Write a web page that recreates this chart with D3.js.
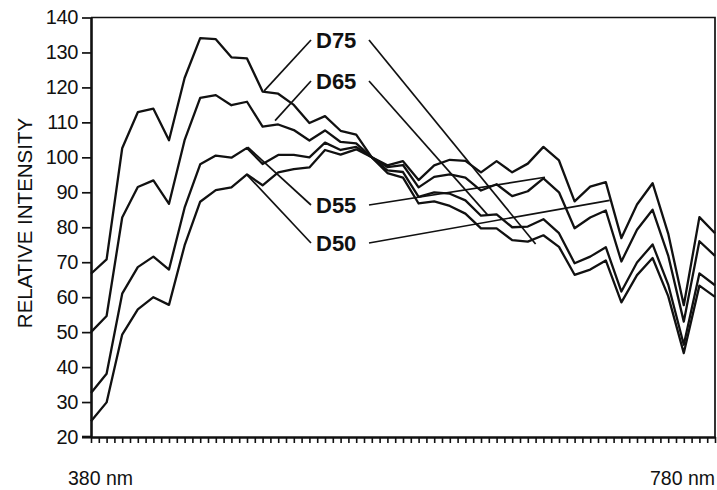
<!DOCTYPE html>
<html>
<head>
<meta charset="utf-8">
<script src="https://cdn.jsdelivr.net/npm/d3@7"></script>
<style>
  body { margin: 0; background: #fff; }
  svg { display: block; }
  text { font-family: "Liberation Sans", Arial, Helvetica, sans-serif; fill: #111; }
  .curve { fill: none; stroke: #111; stroke-width: 2.3; stroke-linejoin: round; }
  .leader { stroke: #111; stroke-width: 1.7; }
</style>
</head>
<body>
<script>
// wavelengths (nm) and relative intensities
var wavelengths = [380,390,400,410,420,430,440,450,460,470,480,490,500,510,520,530,540,550,560,570,
                   580,590,600,610,620,630,640,650,660,670,680,690,700,710,720,730,740,750,760,770,780];
var d75 = [66.7,70.8,102.6,112.9,113.9,104.9,122.7,134.1,133.8,128.6,128.3,118.8,118.2,115.0,109.8,111.8,107.6,106.5,100.0,95.5,
           94.2,86.8,87.4,86.1,83.9,79.7,79.7,76.3,75.9,77.7,74.4,66.4,67.9,70.5,58.5,66.3,71.2,60.3,44.0,63.3,60.1];
var d65 = [50.0,54.6,82.8,91.5,93.4,86.7,104.9,117.0,117.8,114.9,115.9,108.8,109.4,107.8,104.8,107.7,104.4,104.0,100.0,96.3,
           95.8,88.7,90.0,89.6,87.7,83.3,83.7,80.0,80.2,82.3,78.3,69.7,71.6,74.3,61.6,69.9,75.1,63.6,46.4,66.8,63.4];
var d55 = [32.6,38.1,61.0,68.6,71.6,67.9,85.6,98.0,100.5,99.9,102.7,98.1,100.7,100.7,100.0,104.2,102.1,103.0,100.0,97.2,
           97.8,91.4,94.4,95.1,94.2,90.5,92.3,88.9,90.3,94.0,90.0,79.7,82.8,84.8,70.2,79.3,85.0,71.9,53.0,76.0,71.8];
var d50 = [24.5,29.9,49.3,56.5,60.0,57.8,74.8,87.3,90.6,91.4,95.1,92.0,95.7,96.6,97.1,102.1,100.8,102.3,100.0,97.7,
           98.9,93.5,97.7,99.3,99.0,95.7,98.9,95.7,98.2,103.0,99.1,87.4,91.6,92.9,76.9,86.5,92.6,78.2,57.7,82.9,78.3];

var seriesNames = ["D75", "D65", "D55", "D50"];
var yTicks = [20,30,40,50,60,70,80,90,100,110,120,130,140];
var xTicks = d3.range(380, 781, 5);
// leader end points on the curves, [nm, intensity]
var leftEnds = [[491, 119], [498, 110.5], [480.5, 102.9], [480, 95]];
var rightEnds = [[665, 75.2], [634.5, 83.4], [671, 94.3], [712.5, 87.7]];

var width = 717, height = 490;
var plotL = 91, plotR = 715, plotT = 17.5, plotB = 437;

var svg = d3.select("body").append("svg")
  .attr("width", width)
  .attr("height", height);

var x = d3.scaleLinear().domain([380, 780]).range([plotL, plotR]);
var y = d3.scaleLinear().domain([20, 140]).range([plotB, plotT]);

// frame top + right
svg.append("path")
  .attr("d", "M" + plotL + "," + plotT + "H" + plotR + "V" + plotB)
  .attr("fill", "none")
  .attr("stroke", "#111")
  .attr("stroke-width", 1.7);

// y axis
var yAxis = svg.append("g")
  .attr("transform", "translate(" + plotL + ",0)")
  .call(d3.axisLeft(y).tickValues(yTicks).tickSize(9).tickSizeOuter(0).tickPadding(4));
yAxis.select(".domain").attr("stroke", "#111").attr("stroke-width", 2.6);
yAxis.selectAll(".tick line").attr("stroke", "#111").attr("stroke-width", 1.7);
yAxis.selectAll(".tick text")
  .attr("font-size", 20)
  .attr("letter-spacing", -0.4)
  .attr("fill", "#111");

// x axis
var xAxis = svg.append("g")
  .attr("transform", "translate(0," + plotB + ")")
  .call(d3.axisBottom(x).tickValues(xTicks).tickSize(6).tickSizeOuter(0).tickFormat(""));
xAxis.select(".domain").attr("stroke", "#111").attr("stroke-width", 2.6);
xAxis.selectAll(".tick line").attr("stroke", "#111").attr("stroke-width", 1.6);

svg.append("line")
  .attr("x1", plotL - 9).attr("x2", plotL)
  .attr("y1", plotB).attr("y2", plotB)
  .attr("stroke", "#111").attr("stroke-width", 2.6);

svg.append("text").attr("x", 68).attr("y", 485).attr("font-size", 19.5).text("380 nm");
svg.append("text").attr("x", 715).attr("y", 485).attr("font-size", 19.5)
  .attr("text-anchor", "end").text("780 nm");

svg.append("text")
  .attr("transform", "translate(32,223) rotate(-90)")
  .attr("text-anchor", "middle")
  .attr("font-size", 20.5)
  .text("RELATIVE INTENSITY");

// curves
var series = [d75, d65, d55, d50];
var line = d3.line()
  .x(function(d, i) { return x(wavelengths[i]); })
  .y(function(d) { return y(d); });

svg.selectAll(".curve").data(series).enter()
  .append("path")
  .attr("class", "curve")
  .attr("d", line);

// labels + leaders
var labelX = 316;
var labelY = [40, 81, 205, 243];
var g = svg.append("g");
seriesNames.forEach(function(name, i) {
  g.append("line").attr("class", "leader")
    .attr("x1", labelX - 5).attr("y1", labelY[i])
    .attr("x2", x(leftEnds[i][0])).attr("y2", y(leftEnds[i][1]));
  g.append("line").attr("class", "leader")
    .attr("x1", labelX + 53).attr("y1", labelY[i])
    .attr("x2", x(rightEnds[i][0])).attr("y2", y(rightEnds[i][1]));
  g.append("text")
    .attr("x", labelX).attr("y", labelY[i] + 8)
    .attr("font-size", 22)
    .attr("font-weight", "bold")
    .text(name);
});
</script>
</body>
</html>
